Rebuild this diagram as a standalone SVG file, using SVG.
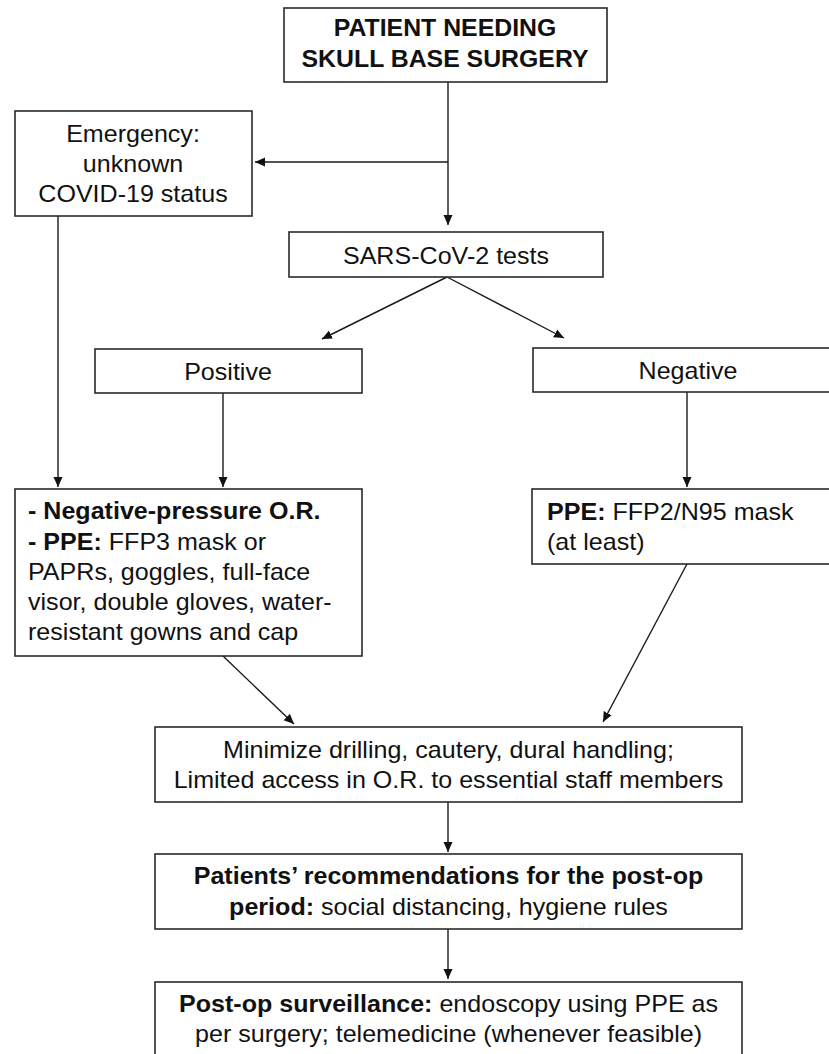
<svg xmlns="http://www.w3.org/2000/svg" width="829" height="1054" viewBox="0 0 829 1054">
<defs>
<style>
rect.box{fill:#fff;stroke:#2a2a2a;stroke-width:1.6}
text{font-family:"Liberation Sans",Arial,sans-serif;font-size:23px;fill:#111}
text.c{text-anchor:middle}
.b{font-weight:bold}
#connectors line{stroke:#1a1a1a;stroke-width:1.4;fill:none;marker-end:url(#arr)}
#connectors line.plain{marker-end:none}
</style>
<marker id="arr" markerUnits="userSpaceOnUse" markerWidth="11" markerHeight="10" refX="10" refY="5" orient="auto">
<path d="M0,0.5 L10,5 L0,9.5 z" fill="#111"/>
</marker>
</defs>
<rect width="829" height="1054" fill="#fff"/>
<g id="connectors">
<line class="plain" x1="448" y1="82" x2="448" y2="162"/>
<line x1="448" y1="162" x2="448" y2="225"/>
<line x1="448" y1="162" x2="255" y2="162"/>
<line x1="447" y1="277" x2="322" y2="339"/>
<line x1="447" y1="277" x2="564" y2="338"/>
<line x1="58" y1="216" x2="58" y2="487"/>
<line x1="223" y1="393" x2="223" y2="487"/>
<line x1="687" y1="392" x2="687" y2="487"/>
<line x1="223" y1="656" x2="294" y2="724"/>
<line x1="687" y1="564" x2="603" y2="722"/>
<line x1="448" y1="802" x2="448" y2="852"/>
<line x1="448" y1="929" x2="448" y2="979"/>
</g>
<g id="n-patient">
<rect class="box" x="284" y="8" width="323" height="74"/>
<text class="c b" transform="translate(445,36) scale(1.08,1)">PATIENT NEEDING</text>
<text class="c b" transform="translate(445,67) scale(1.08,1)">SKULL BASE SURGERY</text>
</g>
<g id="n-emergency">
<rect class="box" x="15" y="111" width="237" height="105"/>
<text class="c" transform="translate(133,142) scale(1.09,1)">Emergency:</text>
<text class="c" transform="translate(133,172) scale(1.09,1)">unknown</text>
<text class="c" transform="translate(133,202) scale(1.09,1)">COVID-19 status</text>
</g>
<g id="n-sars">
<rect class="box" x="289" y="232" width="314" height="45"/>
<text class="c" transform="translate(446,264) scale(1.09,1)">SARS-CoV-2 tests</text>
</g>
<g id="n-positive">
<rect class="box" x="95" y="349" width="267" height="44"/>
<text class="c" transform="translate(228,380) scale(1.09,1)">Positive</text>
</g>
<g id="n-negative">
<rect class="box" x="533" y="348" width="310" height="44"/>
<text class="c" transform="translate(688,379) scale(1.09,1)">Negative</text>
</g>
<g id="n-negpressure">
<rect class="box" x="15" y="489" width="347" height="167"/>
<text transform="translate(28,519) scale(1.09,1)"><tspan class="b">- Negative-pressure O.R.</tspan></text>
<text transform="translate(28,550) scale(1.09,1)"><tspan class="b">- PPE:</tspan> FFP3 mask or</text>
<text transform="translate(28,580) scale(1.09,1)">PAPRs, goggles, full-face</text>
<text transform="translate(28,610) scale(1.09,1)">visor, double gloves, water-</text>
<text transform="translate(28,640) scale(1.09,1)">resistant gowns and cap</text>
</g>
<g id="n-ppe">
<rect class="box" x="532" y="489" width="311" height="75"/>
<text transform="translate(547,520) scale(1.09,1)"><tspan class="b">PPE:</tspan> FFP2/N95 mask</text>
<text transform="translate(547,550) scale(1.09,1)">(at least)</text>
</g>
<g id="n-minimize">
<rect class="box" x="155" y="727" width="587" height="75"/>
<text class="c" transform="translate(448.5,758) scale(1.09,1)">Minimize drilling, cautery, dural handling;</text>
<text class="c" transform="translate(448.5,788) scale(1.09,1)">Limited access in O.R. to essential staff members</text>
</g>
<g id="n-recommend">
<rect class="box" x="155" y="854" width="587" height="75"/>
<text class="c" transform="translate(448.5,884) scale(1.09,1)"><tspan class="b">Patients’ recommendations for the post-op</tspan></text>
<text class="c" transform="translate(448.5,915) scale(1.09,1)"><tspan class="b">period:</tspan> social distancing, hygiene rules</text>
</g>
<g id="n-postop">
<rect class="box" x="155" y="982" width="587" height="90"/>
<text class="c" transform="translate(448.5,1012) scale(1.09,1)"><tspan class="b">Post-op surveillance:</tspan> endoscopy using PPE as</text>
<text class="c" transform="translate(448.5,1042) scale(1.09,1)">per surgery; telemedicine (whenever feasible)</text>
</g>
</svg>
